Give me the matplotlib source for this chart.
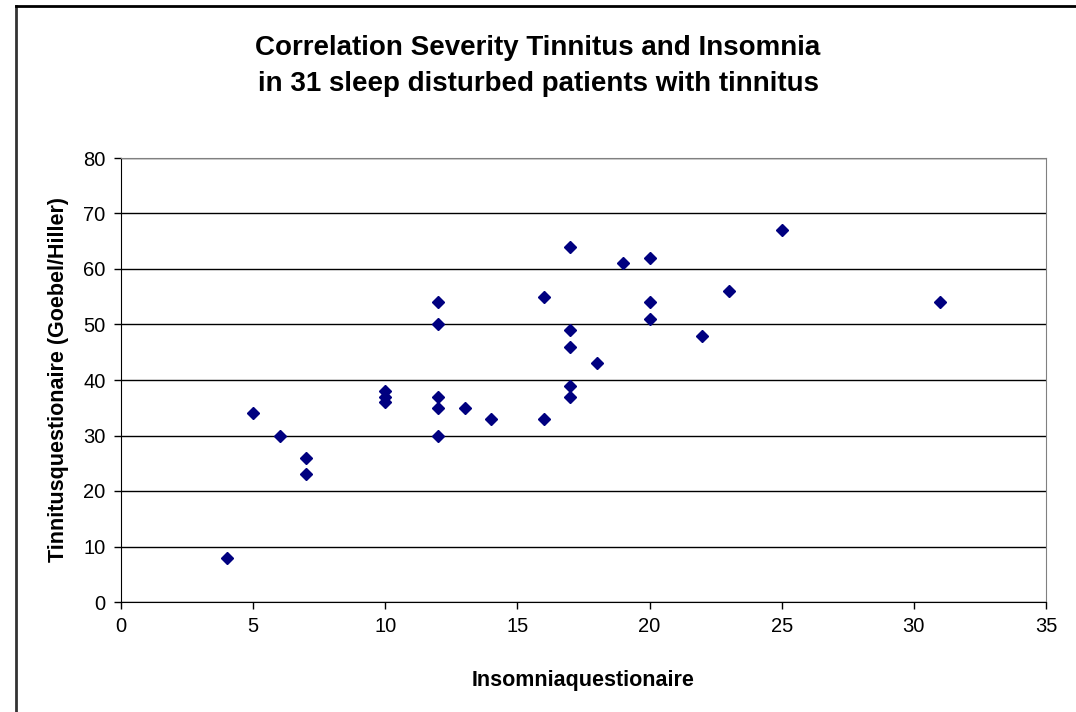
import matplotlib.pyplot as plt
from matplotlib.lines import Line2D

# Insomnia score vs tinnitus score, 31 patients
insomnia = [4, 5, 6, 7, 7, 10, 10, 10, 12, 12, 12, 12, 12, 13, 14, 16, 16,
            17, 17, 17, 17, 17, 18, 19, 20, 20, 20, 22, 23, 25, 31]
tinnitus = [8, 34, 30, 26, 23, 38, 37, 36, 54, 50, 37, 35, 30, 35, 33, 55, 33,
            64, 49, 46, 39, 37, 43, 61, 62, 54, 51, 48, 56, 67, 54]

plt.rcParams['font.family'] = ['Liberation Sans', 'DejaVu Sans']

fig = plt.figure(figsize=(10.76, 7.12), dpi=100)
ax = fig.add_axes([121 / 1076, 1 - 602 / 712, 925 / 1076, 444 / 712])

# outer chart frame (left and top edges only visible)
fig.add_artist(Line2D([16 / 1076, 16 / 1076], [0, 1 - 6 / 712], color='#333333', lw=2.0,
                      transform=fig.transFigure))
fig.add_artist(Line2D([16 / 1076, 1], [1 - 6 / 712, 1 - 6 / 712], color='black', lw=2.0,
                      transform=fig.transFigure))

ax.plot(insomnia, tinnitus, linestyle='none', marker='D', markersize=6.5,
        color='#000080', zorder=3)

ax.set_xlim(0, 35)
ax.set_ylim(0, 80)
ax.set_xticks(range(0, 36, 5))
ax.set_yticks(range(0, 81, 10))
ax.yaxis.grid(True, color='black', lw=1.0)
ax.set_axisbelow(True)
ax.tick_params(direction='out', length=5, width=1, labelsize=14.5, pad=6)

for s in ['top', 'right']:
    ax.spines[s].set_color('#808080')
for s in ['left', 'bottom']:
    ax.spines[s].set_color('black')

ax.set_xlabel('Insomniaquestionaire', fontsize=15.5, fontweight='bold', labelpad=24)
ax.set_ylabel('Tinnitusquestionaire (Goebel/Hiller)', fontsize=15.5, fontweight='bold',
              labelpad=10)

fig.text(0.5, 1 - 66 / 712, 'Correlation Severity Tinnitus and Insomnia\n'
         'in 31 sleep disturbed patients with tinnitus',
         ha='center', va='center', fontsize=20, fontweight='bold', linespacing=1.5)

fig.savefig('out.png', dpi=100)
